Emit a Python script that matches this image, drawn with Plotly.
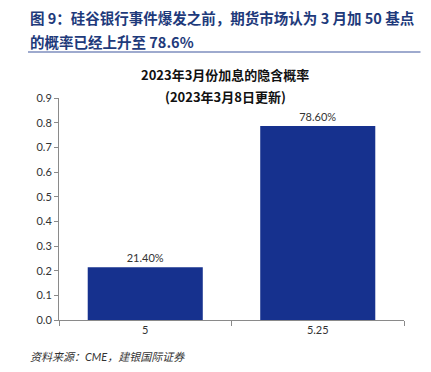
import plotly.graph_objects as go

categories = ["5", "5.25"]
probabilities = [0.214, 0.786]
y_ticks = [0.0, 0.1, 0.2, 0.3, 0.4, 0.5, 0.6, 0.7, 0.8, 0.9]

fig_title_1 = "图 9：硅谷银行事件爆发之前，期货市场认为 3 月加 50 基点"
fig_title_2 = "的概率已经上升至 78.6%"
chart_title_1 = "2023年3月份加息的隐含概率"
chart_title_2 = "(2023年3月8日更新)"
source_text = "资料来源：CME，建银国际证券"

# page body has an 8px margin; compensate so the picture lands where the reference is
OFF = 8
W, H = 431 - OFF, 372 - OFF
# plot area in reference pixel coordinates
PX0, PX1, PY0, PY1 = 59, 404, 98, 320
L, R, T, B = PX0 - OFF, W - (PX1 - OFF), PY0 - OFF, H - (PY1 - OFF)
ph = PY1 - PY0
pw = PX1 - PX0

def py(ypx):
    return (PY1 - ypx) / ph

def px(xpx):
    return (xpx - PX0) / pw

CJK = "Lato, 'Noto Sans CJK SC', sans-serif"
bar_color = "#16318E"
title_color = "#1E3A7B"

fig = go.Figure(go.Bar(
    x=categories, y=probabilities,
    marker=dict(color=bar_color, line=dict(width=0)),
    texttemplate="%{y:.2%}", textposition="outside",
    textfont=dict(size=11, color="#333333", family=CJK),
    cliponaxis=False,
))

fig.update_layout(
    width=W, height=H,
    margin=dict(l=L, r=R, t=T, b=B),
    paper_bgcolor="white", plot_bgcolor="white",
    showlegend=False,
    bargap=0.333,
    font=dict(family=CJK, size=11, color="#333333"),
)
fig.update_yaxes(
    range=[0, 0.9], tickvals=y_ticks, tickformat=".1f",
    showgrid=False, zeroline=False,
    showline=True, linecolor="#8a8a8a", linewidth=1,
    ticks="outside", ticklen=4, tickcolor="#8a8a8a",
    tickfont=dict(size=11, color="#333333"),
)
fig.update_xaxes(
    type="category",
    showgrid=False, showline=True, linecolor="#8a8a8a", linewidth=1,
    ticks="outside", ticklen=5, tickcolor="#8a8a8a", tickson="boundaries",
    tickfont=dict(size=11, color="#333333"),
)

TF = "'Noto Sans CJK SC', sans-serif"
ann = []
ann.append(dict(text="<b>" + fig_title_1 + "</b>", x=px(28), y=py(18), xref="paper", yref="paper",
                xanchor="left", yanchor="middle", showarrow=False,
                font=dict(size=14.5, color=title_color, family=TF)))
ann.append(dict(text="<b>" + fig_title_2 + "</b>", x=px(28), y=py(42), xref="paper", yref="paper",
                xanchor="left", yanchor="middle", showarrow=False,
                font=dict(size=14.5, color=title_color, family=TF)))
ann.append(dict(text="<b>" + chart_title_1 + "</b>", x=px(225), y=py(74), xref="paper", yref="paper",
                xanchor="center", yanchor="middle", showarrow=False,
                font=dict(size=13, color="#111111", family=TF)))
ann.append(dict(text="<b>" + chart_title_2 + "</b>", x=px(225), y=py(96), xref="paper", yref="paper",
                xanchor="center", yanchor="middle", showarrow=False,
                font=dict(size=13, color="#111111", family=TF)))
ann.append(dict(text="<i>" + source_text + "</i>", x=px(28), y=py(356), xref="paper", yref="paper",
                xanchor="left", yanchor="middle", showarrow=False,
                font=dict(size=11, color="#333333", family=CJK)))
# separator rule under the figure heading (drawn as a headless arrow)
ann.append(dict(text="", x=px(28), y=py(52), xref="paper", yref="paper",
                ax=394, ay=0, axref="pixel", ayref="pixel",
                showarrow=True, arrowhead=0, arrowwidth=1.5, arrowcolor="#7F8FBF",
                standoff=0, startstandoff=0))
fig.update_layout(annotations=ann)

fig.write_html("out.html")
